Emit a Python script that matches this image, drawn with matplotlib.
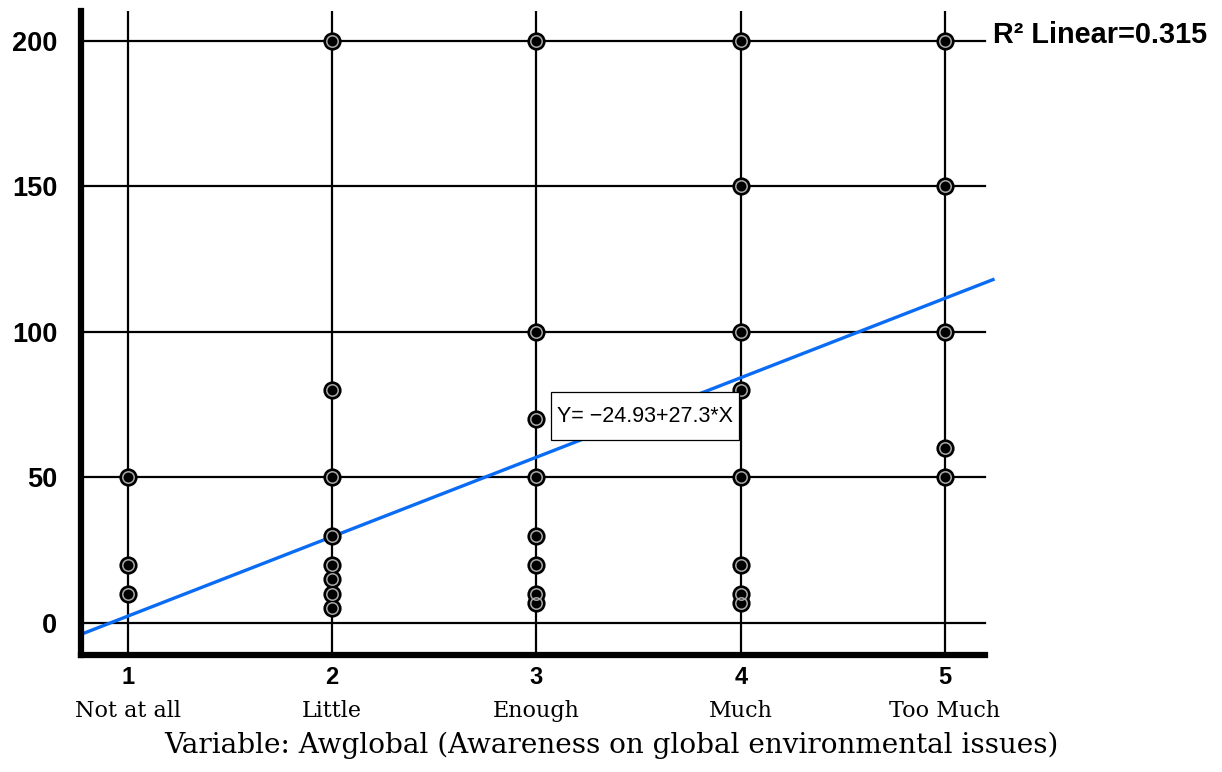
import matplotlib
matplotlib.use("Agg")
import matplotlib.pyplot as plt
from matplotlib.patches import Rectangle

# awareness levels and the response values at each level
levels = [1, 2, 3, 4, 5]
level_names = ['Not at all', 'Little', 'Enough', 'Much', 'Too Much']
values_1 = [50, 20, 10]
values_2 = [200, 80, 50, 30, 20, 15, 10, 5]
values_3 = [200, 100, 70, 50, 30, 20, 10, 7]
values_4 = [200, 150, 100, 80, 50, 20, 10, 7]
values_5 = [200, 150, 100, 60, 50]
y_ticks = [0, 50, 100, 150, 200]

# fitted line Y = a + b*X
intercept = -24.93
slope = 27.3
r2 = 0.315

fig = plt.figure(figsize=(12.22, 7.72), dpi=100)
ax = fig.add_axes([0.0663, 0.1516, 0.7463, 0.8342])

x_lo, x_hi = 0.77, 5.235
grid_end = 5.196
ax.set_xlim(x_lo, x_hi)
ax.set_ylim(-11, 210.3)

# grid drawn by hand (horizontal lines stop short of the fit line)
for yv in y_ticks:
    ax.plot([x_lo, grid_end], [yv, yv], color='black', lw=1.6, zorder=1)
for xv in levels:
    ax.axvline(xv, color='black', lw=1.6, zorder=1)

# regression line
ax.plot([x_lo, x_hi], [intercept + slope * x_lo, intercept + slope * x_hi],
        color='#0a6cf5', lw=2.4, zorder=2, clip_on=False)

# points
all_vals = [values_1, values_2, values_3, values_4, values_5]
for xv, vals in zip(levels, all_vals):
    xs = [xv] * len(vals)
    ax.plot(xs, vals, 'o', ms=11.5, mfc='black', mec='black', mew=1.6, zorder=3,
            clip_on=False)
    ax.plot(xs, vals, 'o', ms=8.2, mfc='none', mec='#a8a8a8', mew=1.1, zorder=4,
            clip_on=False)

# equation box
ax.add_patch(Rectangle((3.07, 62.9), 0.92, 16.5, fc='white', ec='black', lw=0.9,
                       zorder=5))
ax.text(3.53, 71, 'Y= \u221224.93+27.3*X', fontsize=15.5, family='Liberation Sans',
        ha='center', va='center', zorder=6)

# axes styling
for s in ['top', 'right']:
    ax.spines[s].set_visible(False)
ax.spines['left'].set_linewidth(4.5)
ax.spines['bottom'].set_linewidth(4.5)
ax.spines['bottom'].set_bounds(x_lo, grid_end)
ax.spines['left'].set_capstyle('projecting')
ax.spines['bottom'].set_capstyle('projecting')

ax.set_yticks(y_ticks)
ax.set_yticklabels([str(v) for v in y_ticks], fontsize=19.5, fontweight='bold',
                   family='Liberation Sans')
ax.set_xticks(levels)
ax.set_xticklabels([str(v) for v in levels], fontsize=17, fontweight='bold',
                   family='Liberation Sans')
ax.tick_params(axis='y', length=0, pad=17)
ax.tick_params(axis='x', length=0, pad=8)

for xv, name in zip(levels, level_names):
    ax.text(xv, -0.087, name, transform=ax.get_xaxis_transform(),
            ha='center', va='center', fontsize=16, family='DejaVu Serif')

fig.text(0.5, 0.035, 'Variable: Awglobal (Awareness on global environmental issues)',
         ha='center', va='center', fontsize=20.1, family='DejaVu Serif')

fig.text(0.8128, 0.955, 'R\u00b2 Linear=0.315', fontsize=20.8, fontweight='bold',
         family='Liberation Sans', ha='left', va='center')

fig.savefig('out.png', dpi=100)
